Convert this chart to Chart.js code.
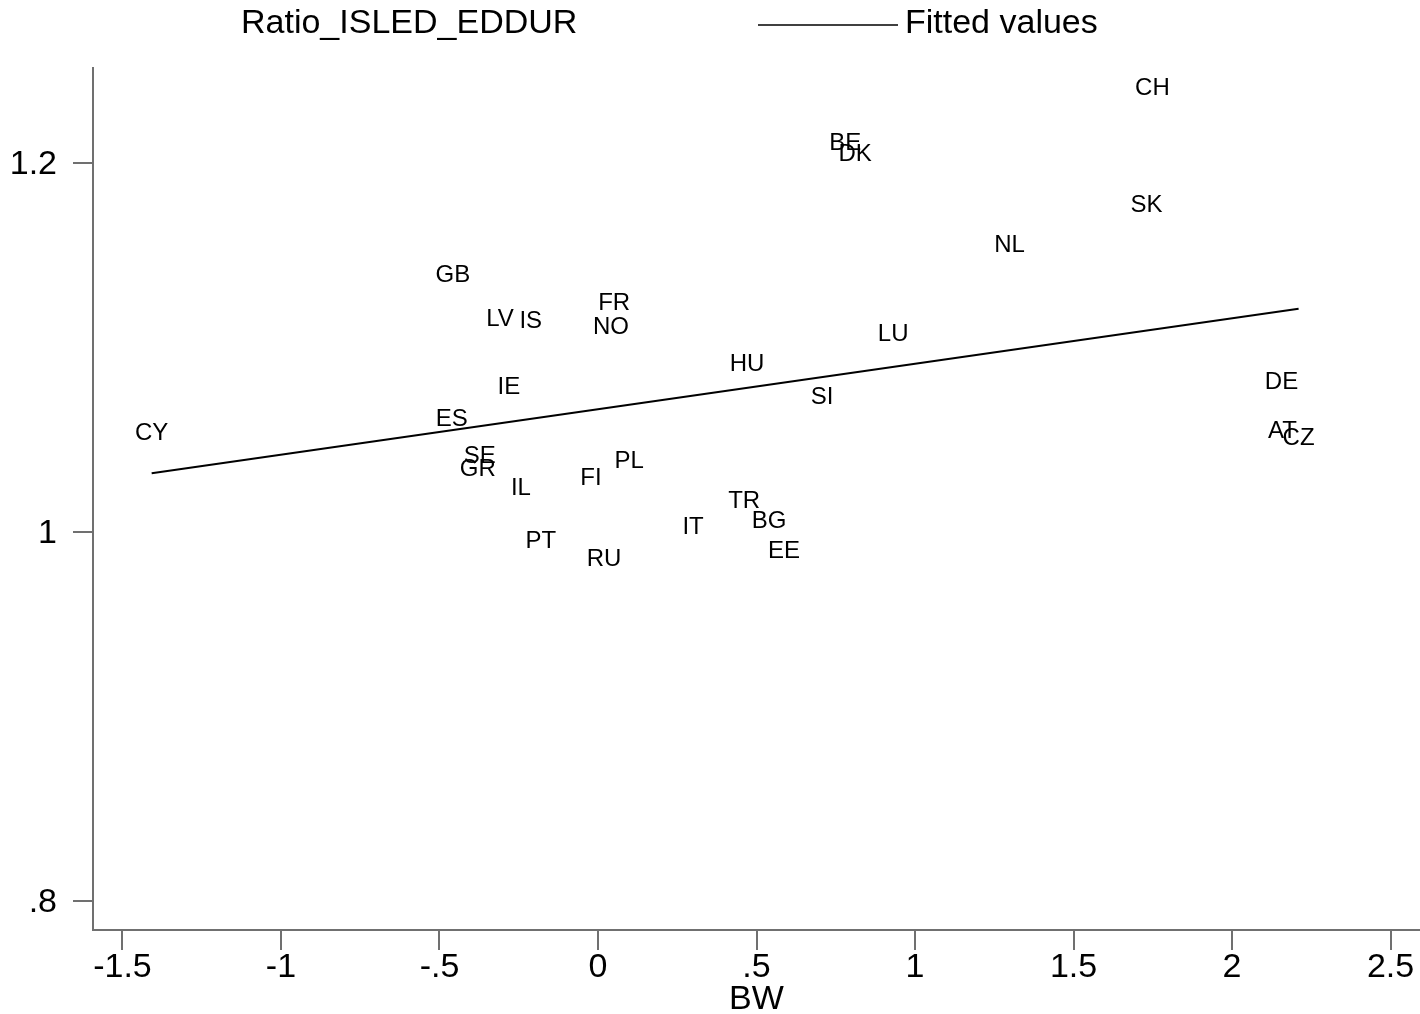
<!DOCTYPE html>
<html>
<head>
<meta charset="utf-8">
<script src="https://cdn.jsdelivr.net/npm/chart.js@4.4.0/dist/chart.umd.min.js"></script>
<style>
  html, body { margin: 0; padding: 0; background: #fff; }
  #wrap { width: 1420px; height: 1014px; position: relative; }
</style>
</head>
<body>
<div id="wrap"><canvas id="myChart"></canvas></div>
<script>
// country codes and their values (BW, Ratio_ISLED_EDDUR)
const countries = ["CH", "BE", "DK", "SK", "NL", "GB", "FR", "LV", "IS", "NO", "LU", "HU", "IE", "DE", "SI",
    "ES", "CY", "AT", "CZ", "SE", "GR", "PL", "IL", "FI", "TR", "BG", "IT", "PT", "EE", "RU"];
const bw = [1.749, 0.780, 0.811, 1.730, 1.298, -0.458, 0.051, -0.309, -0.212, 0.041, 0.931, 0.470, -0.281, 2.156, 0.707,
    -0.461, -1.408, 2.159, 2.210, -0.373, -0.379, 0.098, -0.243, -0.022, 0.461, 0.540, 0.300, -0.180, 0.587, 0.019];
const ratio = [1.2417, 1.2119, 1.2060, 1.1783, 1.1566, 1.1404, 1.1252, 1.1165, 1.1154, 1.1122, 1.1084, 1.0921, 1.0797, 1.0824, 1.0743,
    1.0623, 1.0547, 1.0558, 1.0520, 1.0423, 1.0352, 1.0396, 1.0249, 1.0304, 1.0179, 1.0070, 1.0038, 0.9962, 0.9908, 0.9864];

// fitted line ends
const fitX = [-1.408, 2.210];
const fitY = [1.0318, 1.1210];

const xTicks = [-1.5, -1, -0.5, 0, 0.5, 1, 1.5, 2, 2.5];
const yTicks = [0.8, 1.0, 1.2];

const FONT = "'Liberation Sans', Arial, sans-serif";
const AXIS = "#707070";

function fmt(v) {
    let s = String(+Number(v).toFixed(2));
    s = s.replace(/^0\./, ".").replace(/^-0\./, "-.");
    return s;
}

const pointLabels = {
    id: "pointLabels",
    afterDatasetsDraw(chart) {
        const ctx = chart.ctx;
        const meta = chart.getDatasetMeta(0);
        ctx.save();
        ctx.font = "24px " + FONT;
        ctx.fillStyle = "#000";
        ctx.textAlign = "center";
        ctx.textBaseline = "middle";
        meta.data.forEach((pt, i) => {
            ctx.fillText(countries[i], pt.x, pt.y + 2);
        });
        ctx.restore();
    }
};

const topLegend = {
    id: "topLegend",
    afterDraw(chart) {
        const ctx = chart.ctx;
        ctx.save();
        ctx.font = "34px " + FONT;
        ctx.fillStyle = "#000";
        ctx.textBaseline = "middle";
        ctx.textAlign = "left";
        ctx.fillText("Ratio_ISLED_EDDUR", 241, 24);
        ctx.strokeStyle = "#000";
        ctx.lineWidth = 1.5;
        ctx.beginPath();
        ctx.moveTo(758, 25);
        ctx.lineTo(898, 25);
        ctx.stroke();
        ctx.fillText("Fitted values", 905, 24);
        ctx.restore();
    }
};

const ctx = document.getElementById("myChart").getContext("2d");
const chart = new Chart(ctx, {
    type: "scatter",
    data: {
        datasets: [{
            label: "Ratio_ISLED_EDDUR",
            data: bw.map((x, i) => ({ x: x, y: ratio[i] })),
            pointRadius: 0,
            pointHoverRadius: 0
        }, {
            label: "Fitted values",
            data: fitX.map((x, i) => ({ x: x, y: fitY[i] })),
            showLine: true,
            borderColor: "#000",
            borderWidth: 2,
            pointRadius: 0,
            fill: false
        }]
    },
    options: {
        responsive: true,
        maintainAspectRatio: false,
        animation: false,
        layout: { padding: { top: 68, left: 0, right: 0, bottom: 0 } },
        plugins: {
            legend: { display: false },
            tooltip: { enabled: false }
        },
        scales: {
            x: {
                type: "linear",
                min: -1.593,
                max: 2.593,
                afterBuildTicks: (s) => { s.ticks = xTicks.map(v => ({ value: v })); },
                afterFit: (s) => { s.height = 84; },
                grid: { drawOnChartArea: false, drawTicks: true, tickLength: 20, color: AXIS, lineWidth: 2 },
                border: { display: true, color: AXIS, width: 2 },
                ticks: {
                    color: "#000",
                    font: { family: FONT, size: 34, lineHeight: 1 },
                    padding: 1,
                    maxRotation: 0,
                    callback: (v) => fmt(v)
                },
                title: {
                    display: true,
                    text: "BW",
                    color: "#000",
                    font: { family: FONT, size: 34, lineHeight: 0.85 },
                    padding: { top: 0, bottom: 0 }
                }
            },
            y: {
                type: "linear",
                min: 0.7843,
                max: 1.2515,
                afterBuildTicks: (s) => { s.ticks = yTicks.map(v => ({ value: v })); },
                afterFit: (s) => { s.width = 93; },
                grid: { drawOnChartArea: false, drawTicks: true, tickLength: 20, color: AXIS, lineWidth: 2 },
                border: { display: true, color: AXIS, width: 2 },
                ticks: {
                    color: "#000",
                    font: { family: FONT, size: 34, lineHeight: 1 },
                    padding: 16,
                    labelOffset: 2,
                    callback: (v) => fmt(v)
                }
            }
        }
    },
    plugins: [pointLabels, topLegend]
});
</script>
</body>
</html>
